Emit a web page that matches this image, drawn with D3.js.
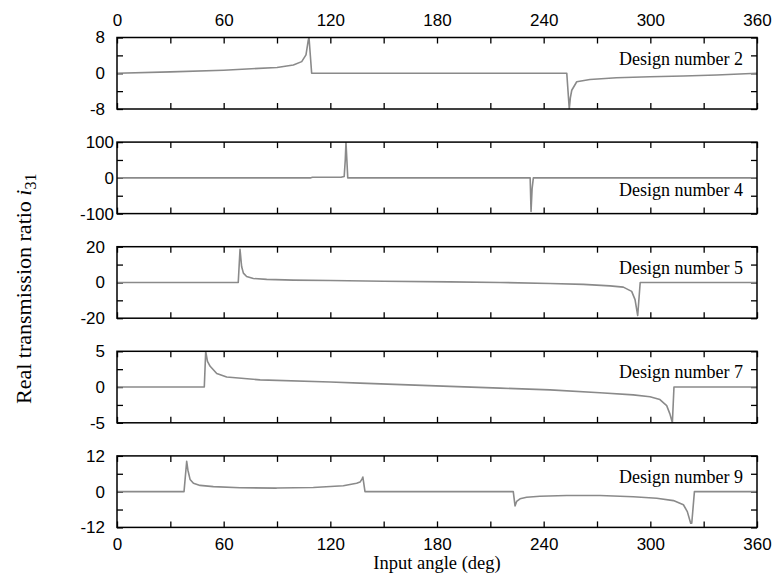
<!DOCTYPE html>
<html>
<head>
<meta charset="utf-8">
<script src="https://cdn.jsdelivr.net/npm/d3@7"></script>
<style>
  body { margin: 0; background: #fff; }
</style>
</head>
<body>
<svg id="chart" width="775" height="577"></svg>
<script>
// Real transmission ratio i31 over one input revolution, one panel per design
const designNames = ["Design number 2", "Design number 4", "Design number 5", "Design number 7", "Design number 9"];
const yLimits = [8, 100, 20, 5, 12];
const angleLabelTicks = [0, 60, 120, 180, 240, 300, 360];
const angleTicks = [0, 30, 60, 90, 120, 150, 180, 210, 240, 270, 300, 330, 360];

// [input angle (deg), i31]
const design2 = [[0,0],[30,0.3],[60,0.67],[90,1.3],[99.2,1.85],[103.9,2.6],[106.3,4.1],[107.6,7.4],[108,8],[109.5,0],
  [253,0],[254.4,-8],[255,-5.5],[255.8,-3.8],[258.6,-1.9],[266,-1.4],[281,-1.0],[299.8,-0.8],[318.6,-0.6],[337.3,-0.4],[360,0]];
const design4 = [[0,0],[109,0],[110,1.5],[126,1.5],[127.8,4],[128.4,50],[128.8,100],[129.3,50],[129.8,0],
  [232.4,0],[232.9,-94],[233.5,-30],[234.2,0],[360,0]];
const design5 = [[0,0],[68.2,0],[69.2,18.5],[70.1,8.9],[71.1,5.2],[72.9,3.3],[76.7,2.2],[84.2,1.7],[99.2,1.3],[120,1.05],
  [150,0.7],[187.3,0.3],[215.4,0],[243.6,-0.55],[262.3,-1.1],[277.3,-1.9],[284.8,-2.6],[289.5,-5],[291.4,-9.6],[292.9,-18.5],[294.3,0],[360,0]];
const design7 = [[0,0],[49.1,0],[49.9,5],[50.9,3.6],[52.4,2.9],[56.1,1.9],[61.7,1.4],[80.5,1.0],[120,0.7],[136.6,0.55],
  [187.3,0.1],[215.4,-0.15],[243.6,-0.4],[271.7,-0.8],[290.4,-1.1],[299.8,-1.35],[305.4,-1.75],[309.2,-2.6],[311,-3.75],[312.4,-5],[313.3,0],[360,0]];
const design9 = [[0,0],[37.7,0],[39.2,10.2],[39.9,7.2],[41.1,4.1],[43,2.8],[46.7,2.1],[54.2,1.7],[69.2,1.3],[89.8,1.2],
  [110.4,1.4],[127.3,2.0],[134.8,2.8],[136.7,3.2],[137.8,4.2],[138.3,4.9],[139.5,0],[222.9,0],[223.9,-4.8],[224.8,-3.3],
  [226.7,-2.4],[230.4,-1.9],[237.9,-1.55],[252.9,-1.3],[271.7,-1.3],[290.4,-1.7],[303.6,-2.2],[313,-3],[318.6,-4.4],
  [320.8,-6.7],[322.7,-10.6],[323.3,-10.6],[324.8,0],[360,0]];
const series = [design2, design4, design5, design7, design9];

const svg = d3.select("#chart");
const plotLeft = 117, plotRight = 757;
const firstTop = 37.5, panelStep = 104.6, panelH = 71.5;
const sansFont = "'Liberation Sans', Arial, sans-serif";
const serifFont = "'Liberation Serif', 'Times New Roman', serif";

const x = d3.scaleLinear().domain([0, 360]).range([plotLeft, plotRight]);

function styleAxis(g) {
  g.select(".domain").remove();
  g.selectAll(".tick line").attr("stroke", "#000").attr("stroke-width", 1.3);
  g.selectAll(".tick text").attr("fill", "#000");
  g.attr("font-family", sansFont).attr("font-size", 17);
}

series.forEach((data, i) => {
  const top = firstTop + i * panelStep;
  const bottom = top + panelH;
  const lim = yLimits[i];
  const y = d3.scaleLinear().domain([-lim, lim]).range([bottom, top]);
  const panel = svg.append("g");

  const clipId = "clip" + i;
  svg.append("clipPath").attr("id", clipId)
    .append("rect").attr("x", plotLeft).attr("y", top).attr("width", plotRight - plotLeft).attr("height", panelH);

  const yTicks = [-lim, -lim / 2, 0, lim / 2, lim];
  const yFmt = d => (Math.abs(d) === lim / 2 ? "" : String(d));

  panel.append("g").attr("transform", `translate(${plotLeft},0)`)
    .call(d3.axisLeft(y).tickValues(yTicks).tickSize(-6).tickPadding(i === 1 ? 3 : 12).tickFormat(yFmt))
    .call(styleAxis);
  panel.append("g").attr("transform", `translate(${plotRight},0)`)
    .call(d3.axisRight(y).tickValues(yTicks).tickSize(-6).tickFormat(""))
    .call(styleAxis);

  const topFmt = d => (i === 0 && angleLabelTicks.includes(d) ? String(d) : "");
  const botFmt = d => (i === series.length - 1 && angleLabelTicks.includes(d) ? String(d) : "");
  panel.append("g").attr("transform", `translate(0,${top})`)
    .call(d3.axisTop(x).tickValues(angleTicks).tickSize(-6).tickPadding(11.5).tickFormat(topFmt))
    .call(styleAxis);
  panel.append("g").attr("transform", `translate(0,${bottom})`)
    .call(d3.axisBottom(x).tickValues(angleTicks).tickSize(-6).tickPadding(11).tickFormat(botFmt))
    .call(styleAxis);

  panel.append("path")
    .datum(data)
    .attr("clip-path", `url(#${clipId})`)
    .attr("fill", "none")
    .attr("stroke", "#8a8a8a")
    .attr("stroke-width", 1.6)
    .attr("stroke-linejoin", "round")
    .attr("d", d3.line().x(d => x(d[0])).y(d => y(d[1])));

  panel.append("rect")
    .attr("x", plotLeft).attr("y", top)
    .attr("width", plotRight - plotLeft).attr("height", panelH)
    .attr("fill", "none").attr("stroke", "#000").attr("stroke-width", 1.5);

  panel.append("text")
    .attr("x", 743)
    .attr("y", top + (i === 1 ? 53.5 : 27))
    .attr("text-anchor", "end")
    .attr("font-family", serifFont)
    .attr("font-size", 18)
    .text(designNames[i]);
});

svg.append("text")
  .attr("x", (plotLeft + plotRight) / 2)
  .attr("y", 569)
  .attr("text-anchor", "middle")
  .attr("font-family", serifFont)
  .attr("font-size", 18.5)
  .text("Input angle (deg)");

const yTitle = svg.append("text")
  .attr("transform", "translate(31,404) rotate(-90)")
  .attr("text-anchor", "start")
  .attr("font-family", serifFont)
  .attr("font-size", 22);
yTitle.append("tspan").text("Real transmission ratio ");
yTitle.append("tspan").attr("font-style", "italic").text("i");
yTitle.append("tspan").attr("font-size", 16).attr("dy", 5).text("31");
</script>
</body>
</html>
